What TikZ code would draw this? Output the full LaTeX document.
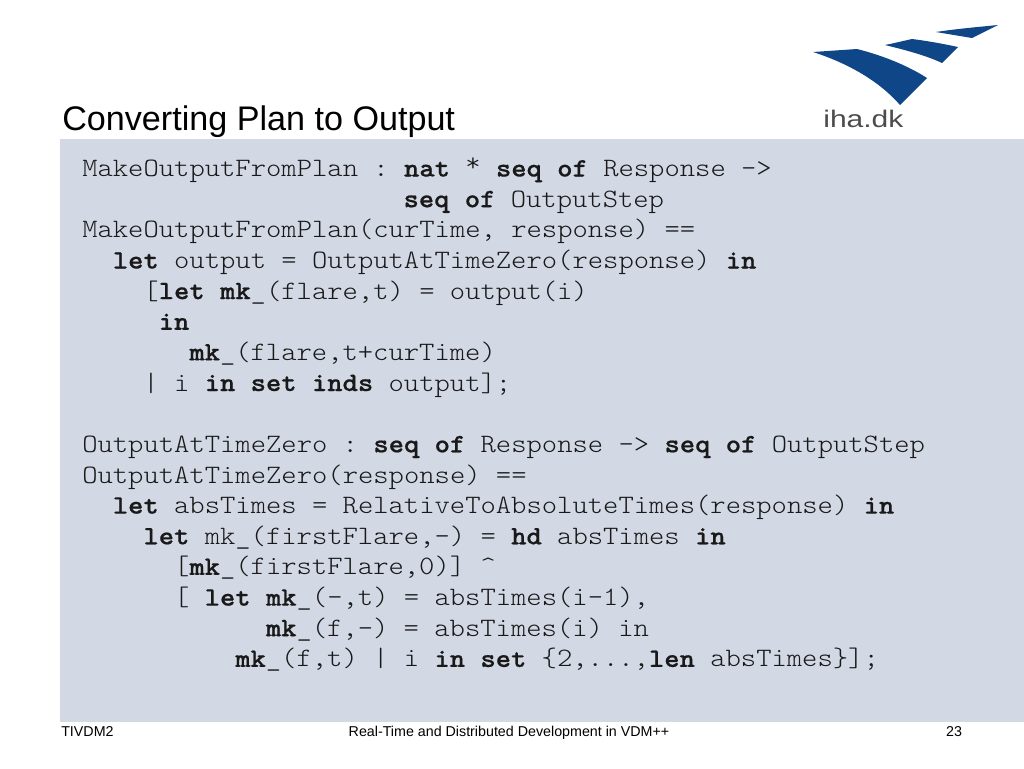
\documentclass[tikz,border=0pt]{standalone}
\usepackage{fontspec}
\setmainfont{Liberation Sans}
\setmonofont[FakeStretch=1.1,BoldFeatures={FakeBold=0.6}]{Latin Modern Mono Light}
\definecolor{panelblue}{RGB}{211,216,229}
\definecolor{logoblue}{RGB}{15,70,135}
\tikzset{
    code/.style={anchor=base west,inner sep=0pt,font=\ttfamily\fontsize{19.9}{23}\selectfont,text=black!90},
    footer/.style={inner sep=0pt,font=\fontsize{10.7}{12}\selectfont,anchor=base},
    wing/.style={fill=logoblue,draw=none}
}
\newcommand{\kw}[1]{\textbf{#1}}
\begin{document}
\begin{tikzpicture}[x=0.75pt,y=-0.75pt]
    \useasboundingbox (0,0) rectangle (1024,768);
    \fill[panelblue] (60,139) rectangle (1024,722);
    \node[anchor=base west,inner sep=0pt,font=\fontsize{25.6}{28}\selectfont] (title) at (62,130) {Converting Plan to Output};
    \fill[wing] (813,52) -- (857,49) .. controls (885,56) and (910,67) .. (927,78) -- (900,105) .. controls (880,82) and (850,64) .. (813,52) -- cycle;
    \fill[wing] (885,45) .. controls (895,43) and (903,41) .. (912,39) .. controls (928,41) and (944,44) .. (958,47) -- (942,63) .. controls (925,55) and (905,50) .. (885,45) -- cycle;
    \fill[wing] (936,32) .. controls (955,29) and (978,27) .. (998,25) -- (972,38) .. controls (960,36) and (948,34) .. (936,32) -- cycle;
    \node[anchor=base west,inner sep=0pt,font=\fontsize{18}{20}\selectfont,text=black!70,xscale=1.25,transform shape] (logotext) at (823,127) {iha.dk};
    \node[code] (line1) at (82,176.5) {MakeOutputFromPlan : \kw{nat} \raisebox{.2em}{*} \kw{seq of} Response ->};
    \node[code] (line2) at (403.3,207.2) {\kw{seq of} OutputStep};
    \node[code] (line3) at (82,237.8) {MakeOutputFromPlan(curTime, response) ==};
    \node[code] (line4) at (112.6,268.5) {\kw{let} output = OutputAtTimeZero(response) \kw{in}};
    \node[code] (line5) at (143.2,299.1) {[\kw{let mk}\_(flare,t) = output(i)};
    \node[code] (line6) at (158.5,329.8) {\kw{in}};
    \node[code] (line7) at (189.1,360.4) {\kw{mk}\_(flare,t+curTime)};
    \node[code] (line8) at (143.2,391) {| i \kw{in set inds} output];};
    \node[code] (line9) at (82,452.3) {OutputAtTimeZero : \kw{seq of} Response -> \kw{seq of} OutputStep};
    \node[code] (line10) at (82,483) {OutputAtTimeZero(response) ==};
    \node[code] (line11) at (112.6,513.6) {\kw{let} absTimes = RelativeToAbsoluteTimes(response) \kw{in}};
    \node[code] (line12) at (143.2,544.3) {\kw{let} mk\_(firstFlare,-) = \kw{hd} absTimes \kw{in}};
    \node[code] (line13) at (173.8,574.9) {[\kw{mk}\_(firstFlare,0)] \textasciicircum};
    \node[code] (line14) at (173.8,605.6) {[ \kw{let mk}\_(-,t) = absTimes(i-1),};
    \node[code] (line15) at (265.6,636.2) {\kw{mk}\_(f,-) = absTimes(i) in};
    \node[code] (line16) at (235,666.9) {\kw{mk}\_(f,t) | i \kw{in set} \{2,...,\kw{len} absTimes\}];};
    \node[footer,anchor=base west] (footleft) at (61,736) {TIVDM2};
    \node[footer] (footmid) at (509,736) {Real-Time and Distributed Development in VDM++};
    \node[footer] (footright) at (954,736) {23};
\end{tikzpicture}
\end{document}
